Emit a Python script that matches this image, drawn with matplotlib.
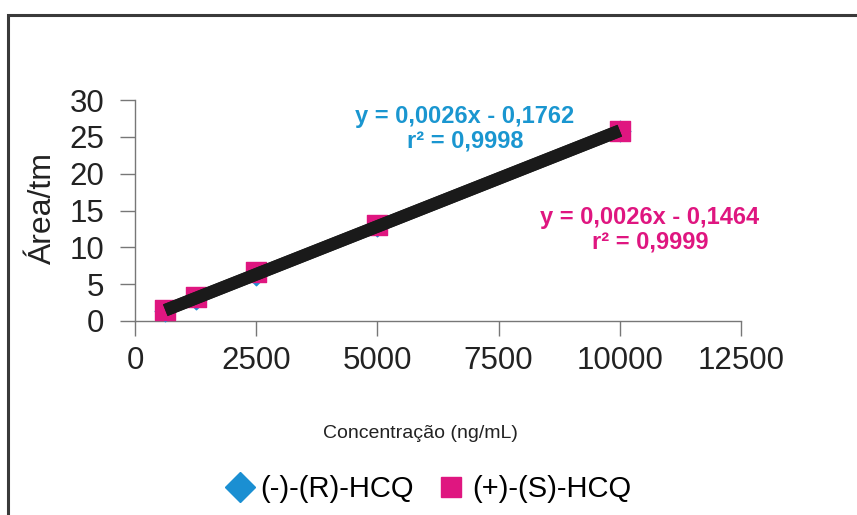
import matplotlib
matplotlib.use("Agg")
import matplotlib.pyplot as plt
from matplotlib.patches import Rectangle
from matplotlib.lines import Line2D
import numpy as np

plt.rcParams['font.family'] = ['Liberation Sans', 'DejaVu Sans']

conc = [625, 1250, 2500, 5000, 10000]
area_R = [1.3, 3.0, 6.3, 12.9, 25.8]
area_S = [1.5, 3.2, 6.6, 13.0, 25.8]
slopes = [0.0026, 0.0026]
intercepts = [-0.1762, -0.1464]
eq_R = "y = 0,0026x - 0,1762\nr² = 0,9998"
eq_S = "y = 0,0026x - 0,1464\nr² = 0,9999"
xticks = [0, 2500, 5000, 7500, 10000, 12500]
yticks = [0, 5, 10, 15, 20, 25, 30]

blue = '#1b8fd2'
pink = '#df1680'

W, H = 857, 515
fig = plt.figure(figsize=(W/100, H/100), dpi=100)
fig.patch.set_facecolor('white')

# outer frame
fig.add_artist(Rectangle((8/W, -0.05), 1.0, 1 - 15/H + 0.05, transform=fig.transFigure,
                         fill=False, edgecolor='#3a3a3a', lw=2.2, zorder=0))

ax = fig.add_axes([135/W, 1 - 321/H, (741-135)/W, (321-100)/H])
ax.set_xlim(0, 12500)
ax.set_ylim(0, 30)

ax.scatter(conc, area_R, marker='D', s=110, color=blue, zorder=3, clip_on=False)
ax.scatter(conc, area_S, marker='s', s=210, color=pink, zorder=4, clip_on=False)

xs = np.array([min(conc), max(conc)])
for m, b in zip(slopes, intercepts):
    ax.plot(xs, m*xs + b, color='#1a1a1a', lw=9, solid_capstyle='butt', zorder=5)

ax.set_xticks(xticks)
ax.set_yticks(yticks)
ax.tick_params(axis='both', labelsize=22.5, direction='out', length=11, width=1,
               colors='#777777', labelcolor='#222222')
ax.tick_params(axis='x', pad=7)
ax.tick_params(axis='y', pad=11)
for s in ['top', 'right']:
    ax.spines[s].set_visible(False)
for s in ['left', 'bottom']:
    ax.spines[s].set_color('#777777')
    ax.spines[s].set_linewidth(1)

ax.text(6807, 26.1, eq_R, color='#1a96d0', fontsize=17, fontweight='bold', ha='center', va='center', linespacing=1.1)
ax.text(10623, 12.4, eq_S, color=pink, fontsize=17, fontweight='bold', ha='center', va='center', linespacing=1.1)

fig.text(43/W, 1 - 208/H, 'Área/tm', rotation=90, fontsize=23, color='#222222', ha='center', va='center')
fig.text(420/W, 1 - 433/H, 'Concentração (ng/mL)', fontsize=14, color='#222222', ha='center', va='center')

handles = [Line2D([], [], marker='D', color=blue, linestyle='None', markersize=15),
           Line2D([], [], marker='s', color=pink, linestyle='None', markersize=15)]
fig.legend(handles, ['(-)-(R)-HCQ', '(+)-(S)-HCQ'], loc='center', bbox_to_anchor=(428/W, 1 - 489/H),
           ncol=2, frameon=False, fontsize=21, handletextpad=0.2, columnspacing=0.8, handlelength=1.0)

fig.savefig('out.png', dpi=100)
